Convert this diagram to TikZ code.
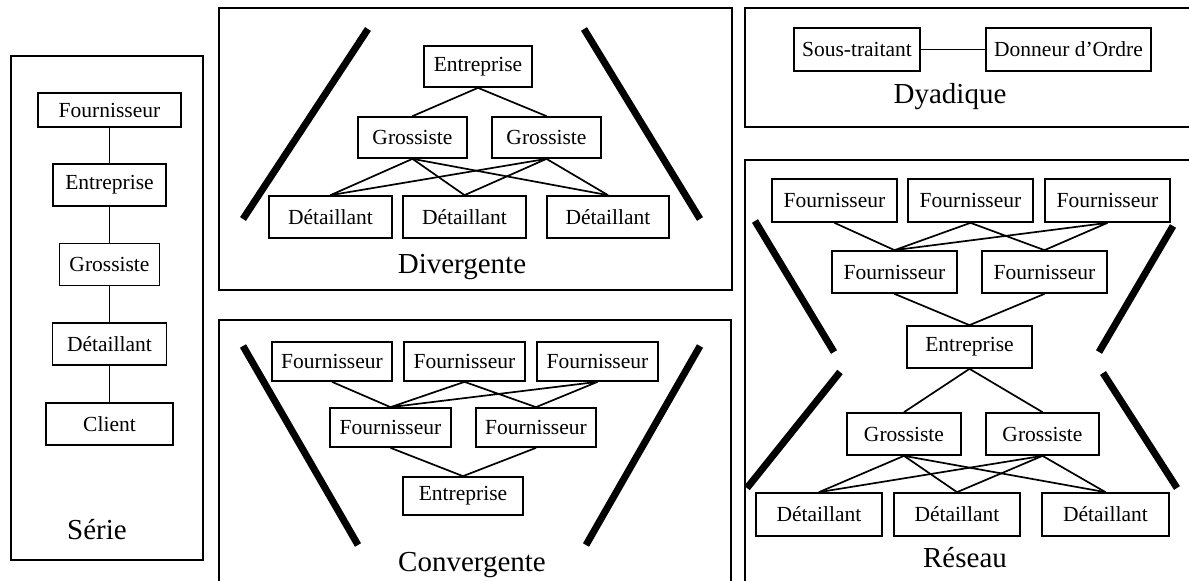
\documentclass[tikz,border=0pt]{standalone}
\usepackage{fontspec}
\setmainfont{Liberation Serif}
\begin{document}
\begin{tikzpicture}[x=1pt,y=-1pt,
    org/.style={draw, line width=1.7pt, inner sep=0pt, minimum height=42pt, font=\fontsize{21.5}{25}\selectfont},
    ttl/.style={font=\fontsize{29}{34}\selectfont},
    link/.style={line width=1.7pt},
    frame/.style={line width=1.7pt},
    slash/.style={line width=7pt}]
    \useasboundingbox (0,0) rectangle (1189,581);

    \draw[frame] (11,56) rectangle (203,560);
    \node[org, minimum width=143pt, minimum height=34pt] (sF) at (109.5,110) {Fournisseur};
    \node[org, minimum width=113pt] (sE) at (109.5,185) {Entreprise};
    \node[org, minimum width=100pt] (sG) at (109.5,264.5) {Grossiste};
    \node[org, minimum width=114pt] (sD) at (109.5,344) {Détaillant};
    \node[org, minimum width=127pt] (sC) at (109.5,424) {Client};
    \node[ttl] (sL) at (97,530) {Série};
    \draw[link] (sF) -- (sE) (sE) -- (sG) (sG) -- (sD) (sD) -- (sC);

    \draw[frame] (219,8) rectangle (732,290);
    \draw[slash] (243,219) -- (368,29);
    \draw[slash] (584,29) -- (700,219);
    \node[org, minimum width=108pt, minimum height=41pt] (dE) at (478,66.5) {Entreprise};
    \node[org, minimum width=109pt, minimum height=41pt] (dG1) at (412.5,137.5) {Grossiste};
    \node[org, minimum width=109pt, minimum height=41pt] (dG2) at (546.5,137.5) {Grossiste};
    \node[org, minimum width=123pt] (dD1) at (330.5,217) {Détaillant};
    \node[org, minimum width=123pt] (dD2) at (464.5,217) {Détaillant};
    \node[org, minimum width=122pt] (dD3) at (608,217) {Détaillant};
    \node[ttl] (dL) at (462,267) {Divergente};
    \draw[link] (dE.south) -- (dG1.north) (dE.south) -- (dG2.north);
    \foreach \g in {dG1,dG2}
      \foreach \d in {dD1,dD2,dD3}
        \draw[link] (\g.south) -- (\d.north);

    \draw[frame] (219,583) -- (219,320) -- (731,320) -- (731,583);
    \draw[slash] (243,346) -- (358,545);
    \draw[slash] (700,346) -- (586,545);
    \node[org, minimum width=120pt, minimum height=39pt] (cF1) at (332,361.5) {Fournisseur};
    \node[org, minimum width=121pt, minimum height=39pt] (cF2) at (464.5,361.5) {Fournisseur};
    \node[org, minimum width=121pt, minimum height=39pt] (cF3) at (597.5,361.5) {Fournisseur};
    \node[org, minimum width=121pt, minimum height=39pt] (cM1) at (390.5,427.5) {Fournisseur};
    \node[org, minimum width=120pt, minimum height=39pt] (cM2) at (536,427.5) {Fournisseur};
    \node[org, minimum width=120pt, minimum height=38pt] (cE) at (463,496) {Entreprise};
    \node[ttl] (cL) at (472,565) {Convergente};
    \draw[link] (cF1.south) -- (cM1.north) (cF2.south) -- (cM1.north) (cF2.south) -- (cM2.north)
      (cF3.south) -- (cM1.north) (cF3.south) -- (cM2.north);
    \draw[link] (cM1.south) -- (cE.north) (cM2.south) -- (cE.north);

    \draw[frame] (1191,8) -- (745,8) -- (745,127) -- (1191,127);
    \node[org, minimum width=126pt, minimum height=43pt] (yS) at (857,49.5) {Sous-traitant};
    \node[org, minimum width=165pt, minimum height=43pt] (yD) at (1068.5,49.5) {Donneur d’Ordre};
    \node[ttl] (yL) at (950,97) {Dyadique};
    \draw[link] (yS) -- (yD);

    \draw[frame] (745,583) -- (745,160) -- (1191,160);
    \draw[slash] (755,221) -- (834,352);
    \draw[slash] (840,372) -- (747,488);
    \draw[slash] (1173,226) -- (1099,352);
    \draw[slash] (1103,373) -- (1177,488);
    \node[org, minimum width=125pt, minimum height=43pt] (rF1) at (834.5,200.5) {Fournisseur};
    \node[org, minimum width=125pt, minimum height=43pt] (rF2) at (970.5,200.5) {Fournisseur};
    \node[org, minimum width=125pt, minimum height=43pt] (rF3) at (1107.5,200.5) {Fournisseur};
    \node[org, minimum width=125pt] (rM1) at (894.5,272) {Fournisseur};
    \node[org, minimum width=125pt] (rM2) at (1044.5,272) {Fournisseur};
    \node[org, minimum width=125pt] (rE) at (969.5,347) {Entreprise};
    \node[org, minimum width=114pt] (rG1) at (904,434) {Grossiste};
    \node[org, minimum width=113pt] (rG2) at (1042.5,434) {Grossiste};
    \node[org, minimum width=126pt, minimum height=43pt] (rD1) at (819,514.5) {Détaillant};
    \node[org, minimum width=126pt, minimum height=43pt] (rD2) at (957,514.5) {Détaillant};
    \node[org, minimum width=127pt, minimum height=43pt] (rD3) at (1105.5,514.5) {Détaillant};
    \node[ttl] (rL) at (965,558) {Réseau};
    \draw[link] (rF1.south) -- (rM1.north) (rF2.south) -- (rM1.north) (rF2.south) -- (rM2.north)
      (rF3.south) -- (rM1.north) (rF3.south) -- (rM2.north);
    \draw[link] (rM1.south) -- (rE.north) (rM2.south) -- (rE.north);
    \draw[link] (rE.south) -- (rG1.north) (rE.south) -- (rG2.north);
    \foreach \g in {rG1,rG2}
      \foreach \d in {rD1,rD2,rD3}
        \draw[link] (\g.south) -- (\d.north);
\end{tikzpicture}
\end{document}
